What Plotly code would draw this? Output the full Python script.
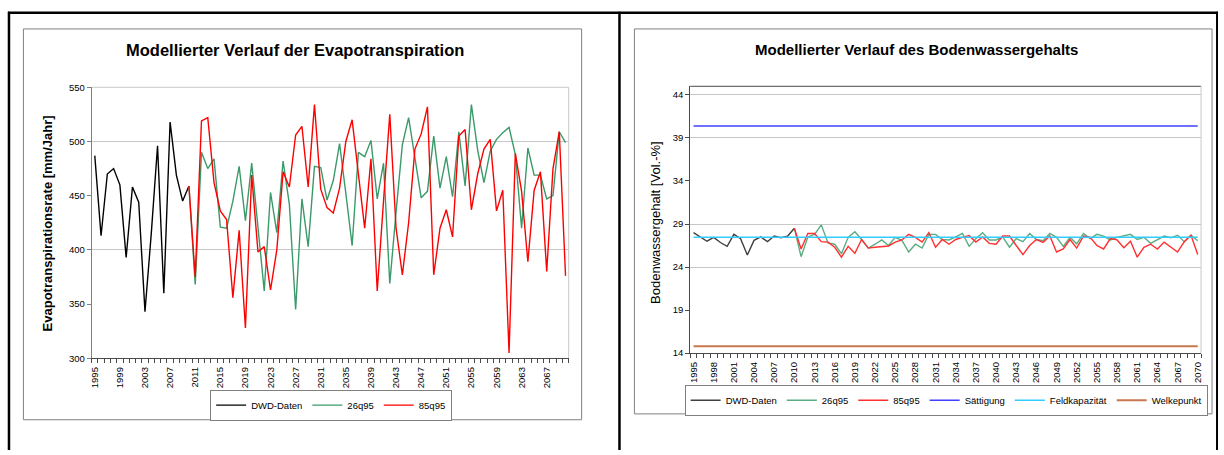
import plotly.graph_objects as go

# ---------------- data ----------------
years = list(range(1995, 2071))
years_dwd = list(range(1995, 2011))
years_scen = list(range(2010, 2071))

# Evapotranspiration [mm/Jahr]
et_dwd = [487, 413, 470, 475, 460, 393, 458, 444, 343, 415, 496, 360, 518, 469, 445, 459]
et_26q95 = [459, 368, 490, 475, 484, 421, 420, 445, 477, 427, 480, 418, 362, 453, 416, 482,
            442, 345, 447, 403, 477, 476, 446, 464, 498, 452, 404, 490, 486, 501, 447, 480,
            369, 435, 497, 522, 485, 448, 454, 505, 457, 486, 449, 509, 459, 534, 492, 462,
            491, 502, 508, 513, 488, 420, 494, 469, 469, 447, 450, 509, 499]
et_85q95 = [459, 375, 519, 522, 462, 436, 428, 356, 418, 328, 469, 398, 403, 363, 400, 472,
            458, 506, 514, 458, 534, 456, 439, 434, 457, 500, 520, 470, 420, 484, 362, 445,
            525, 420, 377, 425, 493, 507, 532, 377, 420, 437, 412, 505, 511, 437, 470, 493,
            502, 436, 455, 305, 489, 454, 389, 455, 472, 380, 475, 509, 376]

# Bodenwassergehalt [Vol.-%]
bw_dwd = [28.0, 27.5, 27.0, 27.45, 26.85, 26.4, 27.8, 27.3, 25.4, 27.1, 27.5, 26.95, 27.6, 27.4, 27.6, 28.5]
bw_26q95 = [28.5, 25.2, 27.5, 27.8, 28.9, 26.8, 26.65, 25.55, 27.45, 28.1, 27.2, 26.2, 26.65, 27.15, 26.5, 27.45,
            27.1, 25.75, 26.65, 26.2, 27.8, 27.8, 27.2, 27.15, 27.5, 27.9, 26.4, 27.3, 28.0, 27.15, 27.15, 27.5,
            26.3, 27.3, 26.95, 27.9, 27.2, 27.05, 27.9, 27.45, 26.4, 27.45, 26.7, 27.9, 27.3, 27.8, 27.6, 27.15,
            27.45, 27.65, 27.8, 27.2, 27.45, 26.75, 27.2, 27.6, 27.4, 27.7, 26.95, 27.7, 27.05]
bw_85q95 = [28.5, 26.1, 27.9, 27.9, 26.95, 26.9, 26.3, 25.15, 26.4, 25.6, 27.2, 26.2, 26.3, 26.4, 26.45, 26.9,
            27.15, 27.8, 27.45, 26.9, 28.0, 26.3, 27.2, 26.65, 27.2, 27.45, 27.65, 26.9, 27.5, 26.75, 26.65, 27.6,
            27.6, 26.5, 25.45, 26.5, 27.2, 26.85, 27.6, 25.75, 26.1, 27.2, 26.2, 27.6, 27.45, 26.5, 26.1, 27.3,
            27.15, 26.25, 27.0, 25.15, 26.3, 26.65, 26.1, 26.9, 26.3, 25.75, 26.95, 27.7, 25.45]
saettigung = 40.4
feldkapazitaet = 27.45
welkepunkt = 14.8

et_ticks = [300, 350, 400, 450, 500, 550]
bw_ticks = [14, 19, 24, 29, 34, 39, 44]
et_xlabels = list(range(1995, 2068, 4))
bw_xlabels = list(range(1995, 2071, 3))

# ---------------- layout helpers ----------------
W, H = 1224, 455
def px(x):
    return x / W
def py(y):
    return 1 - y / H

FONT = "Liberation Sans, Arial, sans-serif"
LIGHT = "#c8c8c8"
DARK = "#4a4a4a"
AXIS = "#7f7f7f"

fig = go.Figure()

# left chart traces
fig.add_trace(go.Scatter(x=years_dwd, y=et_dwd, mode="lines", name="DWD-Daten",
                         line=dict(color="#000000", width=1.4), xaxis="x", yaxis="y", legend="legend"))
fig.add_trace(go.Scatter(x=years_scen, y=et_26q95, mode="lines", name="26q95",
                         line=dict(color="#3a9a6a", width=1.4), xaxis="x", yaxis="y", legend="legend"))
fig.add_trace(go.Scatter(x=years_scen, y=et_85q95, mode="lines", name="85q95",
                         line=dict(color="#ff0000", width=1.4), xaxis="x", yaxis="y", legend="legend"))

# right chart traces
fig.add_trace(go.Scatter(x=years_dwd, y=bw_dwd, mode="lines", name="DWD-Daten",
                         line=dict(color="#404040", width=1.4), xaxis="x2", yaxis="y2", legend="legend2"))
fig.add_trace(go.Scatter(x=years_scen, y=bw_26q95, mode="lines", name="26q95",
                         line=dict(color="#5aad82", width=1.4), xaxis="x2", yaxis="y2", legend="legend2"))
fig.add_trace(go.Scatter(x=years_scen, y=bw_85q95, mode="lines", name="85q95",
                         line=dict(color="#ff3030", width=1.4), xaxis="x2", yaxis="y2", legend="legend2"))
fig.add_trace(go.Scatter(x=years, y=[saettigung] * len(years), mode="lines", name="Sättigung",
                         line=dict(color="#4040ff", width=1.5), xaxis="x2", yaxis="y2", legend="legend2"))
fig.add_trace(go.Scatter(x=years, y=[feldkapazitaet] * len(years), mode="lines", name="Feldkapazität",
                         line=dict(color="#33ccff", width=1.5), xaxis="x2", yaxis="y2", legend="legend2"))
fig.add_trace(go.Scatter(x=years, y=[welkepunkt] * len(years), mode="lines", name="Welkepunkt",
                         line=dict(color="#c8784f", width=2), xaxis="x2", yaxis="y2", legend="legend2"))

tickfont = dict(family=FONT, size=9.5, color="#000000")

def xaxis_cfg(domain, labels, anchor):
    return dict(domain=domain, range=[1994.5, 2070.5], anchor=anchor,
                tickmode="array", tickvals=labels, ticktext=[str(v) for v in labels],
                tickangle=-90, ticks="", ticklabelstandoff=4, tickfont=tickfont,
                showgrid=False, zeroline=False, showline=True, linecolor=DARK, linewidth=1,
                minor=dict(tick0=1994.5, dtick=1, ticks="outside", ticklen=4,
                           tickcolor=DARK, tickwidth=1, showgrid=False),
                fixedrange=True)

left_x = [px(89), px(568)]
left_y = [py(361), py(83.3)]
right_x = [px(690), px(1203)]
right_y = [py(355.7), py(82.3)]

legend_font = dict(family=FONT, size=9.5, color="#000000")

fig.update_layout(
    width=W, height=H, margin=dict(l=0, r=0, t=0, b=0),
    paper_bgcolor="white", plot_bgcolor="white",
    font=dict(family=FONT, color="#000000"),
    xaxis=xaxis_cfg(left_x, et_xlabels, "y"),
    yaxis=dict(domain=left_y, range=[300, 550], anchor="x", tickmode="array", tickvals=et_ticks,
               ticks="outside", ticklen=4, tickcolor=AXIS, tickfont=tickfont,
               showgrid=False, zeroline=False, showline=True, linecolor=AXIS, linewidth=1,
               minor=dict(tickmode="array", tickvals=[400, 500, 550], showgrid=True,
                          gridcolor=LIGHT, gridwidth=1, ticks=""),
               fixedrange=True),
    yaxis3=dict(overlaying="y", anchor="x", range=[300, 550], tickmode="array", tickvals=[350, 450],
                showticklabels=False, ticks="", showgrid=True, gridcolor=DARK, gridwidth=1,
                showline=False, zeroline=False, fixedrange=True),
    xaxis2=xaxis_cfg(right_x, bw_xlabels, "y2"),
    yaxis2=dict(domain=right_y, range=[14, 45], anchor="x2", tickmode="array", tickvals=bw_ticks,
                ticks="outside", ticklen=4, tickcolor=DARK, tickfont=tickfont,
                showgrid=False, zeroline=False, showline=True, linecolor=DARK, linewidth=1,
                minor=dict(tickmode="array", tickvals=[24, 29, 39, 44], showgrid=True,
                           gridcolor=LIGHT, gridwidth=1, ticks=""),
                fixedrange=True),
    yaxis4=dict(overlaying="y2", anchor="x2", range=[14, 45], tickmode="array", tickvals=[19, 34],
                showticklabels=False, ticks="", showgrid=True, gridcolor=DARK, gridwidth=1,
                showline=False, zeroline=False, fixedrange=True),
    legend=dict(x=px(329.5), y=py(409), xanchor="center", yanchor="middle", orientation="h",
                bordercolor="#808080", borderwidth=1, bgcolor="white",
                font=legend_font, itemwidth=30, tracegroupgap=0),
    legend2=dict(x=px(947), y=py(404), xanchor="center", yanchor="middle", orientation="h",
                 bordercolor="#808080", borderwidth=1, bgcolor="white",
                 font=legend_font, itemwidth=30, tracegroupgap=0),
    showlegend=True,
)

# titles
fig.add_annotation(text="<b>Modellierter Verlauf der Evapotranspiration</b>", x=px(293), y=py(45),
                   xref="paper", yref="paper", showarrow=False, xanchor="center", yanchor="middle",
                   font=dict(family=FONT, size=16.5, color="#000000"))
fig.add_annotation(text="<b>Modellierter Verlauf des Bodenwassergehalts</b>", x=px(917), y=py(45),
                   xref="paper", yref="paper", showarrow=False, xanchor="center", yanchor="middle",
                   font=dict(family=FONT, size=15, color="#000000"))
fig.add_annotation(text="<b>Evapotranspirationsrate [mm/Jahr]</b>", x=px(45), y=py(223),
                   xref="paper", yref="paper", showarrow=False, xanchor="center", yanchor="middle",
                   textangle=-90, font=dict(family=FONT, size=13, color="#000000"))
fig.add_annotation(text="Bodenwassergehalt [Vol.-%]", x=px(655), y=py(222),
                   xref="paper", yref="paper", showarrow=False, xanchor="center", yanchor="middle",
                   textangle=-90, font=dict(family=FONT, size=13, color="#000000"))

shapes = []
# outer table borders
shapes.append(dict(type="line", xref="paper", yref="paper", x0=px(5), x1=px(1220), y0=py(7), y1=py(7),
                   line=dict(color="black", width=2.5)))
shapes.append(dict(type="line", xref="paper", yref="paper", x0=px(6), x1=px(6), y0=py(6), y1=0,
                   line=dict(color="black", width=2.5)))
shapes.append(dict(type="line", xref="paper", yref="paper", x0=px(619), x1=px(619), y0=py(6), y1=0,
                   line=dict(color="black", width=2.5)))
shapes.append(dict(type="line", xref="paper", yref="paper", x0=px(1219), x1=px(1219), y0=py(6), y1=0,
                   line=dict(color="black", width=2)))
# chart area frames
shapes.append(dict(type="rect", xref="paper", yref="paper", x0=px(20.5), x1=px(581), y0=py(23.5), y1=py(424),
                   line=dict(color="#808080", width=1)))
shapes.append(dict(type="rect", xref="paper", yref="paper", x0=px(634), x1=px(1214), y0=py(23.5), y1=py(418),
                   line=dict(color="#808080", width=1)))
# plot area borders
shapes.append(dict(type="line", xref="x domain", yref="y domain", x0=0, x1=1, y0=1, y1=1, layer="below",
                   line=dict(color=LIGHT, width=1)))
shapes.append(dict(type="line", xref="x domain", yref="y domain", x0=1, x1=1, y0=0, y1=1, layer="below",
                   line=dict(color=LIGHT, width=1)))
shapes.append(dict(type="line", xref="x2 domain", yref="y2 domain", x0=0, x1=1, y0=1, y1=1, layer="below",
                   line=dict(color=DARK, width=1)))
shapes.append(dict(type="line", xref="x2 domain", yref="y2 domain", x0=1, x1=1, y0=0, y1=1, layer="below",
                   line=dict(color=LIGHT, width=1)))
fig.update_layout(shapes=shapes)

fig.write_html("out.html")
